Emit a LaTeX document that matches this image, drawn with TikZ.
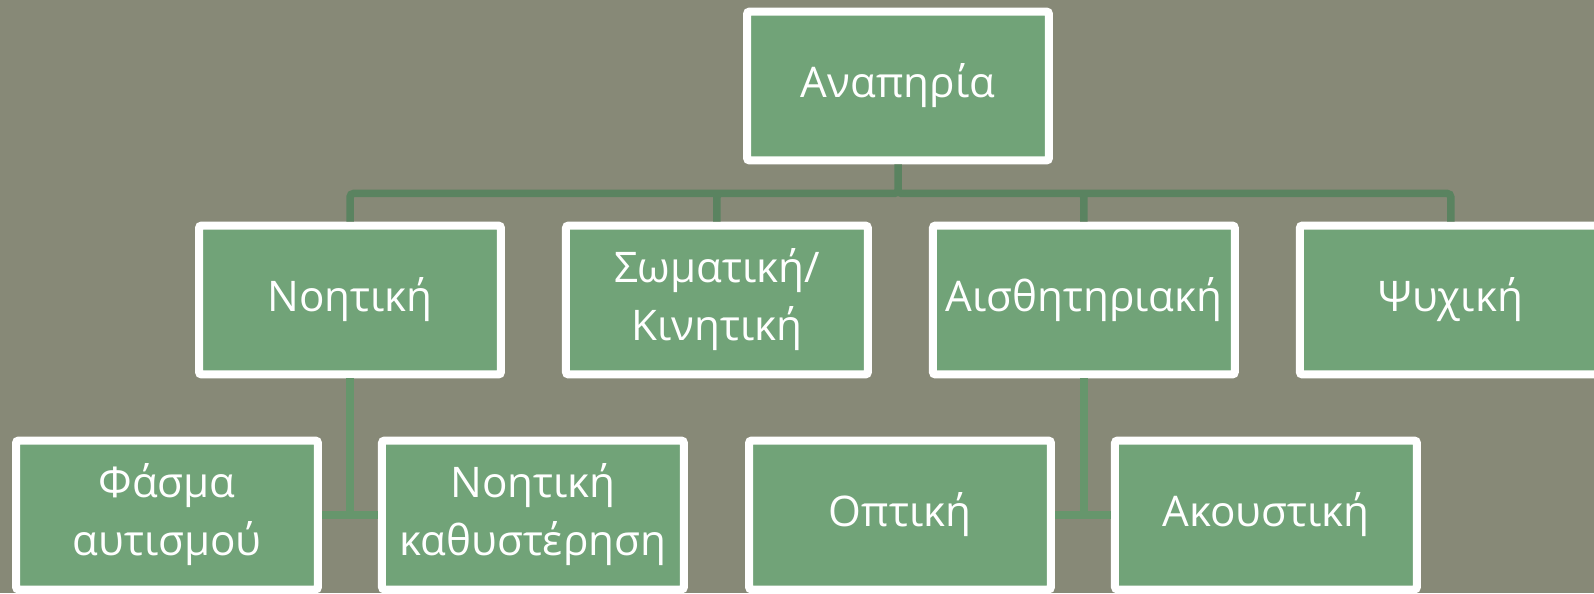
\documentclass[tikz,border=0pt]{standalone}
\usepackage{fontspec}
\setmainfont{Open Sans}
\usepackage{tikz}
\usetikzlibrary{positioning}
\definecolor{slatebg}{HTML}{878977}
\definecolor{boxgreen}{HTML}{71A378}
\definecolor{linkdark}{HTML}{5A8360}
\definecolor{linklight}{HTML}{66966C}
\tikzset{green box/.style={draw=white,fill=boxgreen,line width=0.16cm,rounded corners=1.5pt,
    minimum width=6.04cm,minimum height=2.98cm,inner sep=2pt,text=white,align=center,
    font=\fontsize{24}{33}\selectfont}}
\tikzset{tree link/.style={draw=linkdark,line width=0.15cm,rounded corners=2pt}}
\tikzset{leaf link/.style={draw=linklight,line width=0.15cm}}

\begin{document}
\begin{tikzpicture}[x=0.02cm,y=-0.02cm]
            \fill[slatebg] (0,0) rectangle (1594,593);
            \useasboundingbox (0,0) rectangle (1594,593);
            \node[green box] (root) at (898,86) {Αναπηρία};
            \node[green box] (noet) at (350,300) {Νοητική};
            \node[green box] (somat) [right=1.14cm of noet] {Σωματική/\\Κινητική};
            \node[green box] (aisth) [right=1.14cm of somat] {Αισθητηριακή};
            \node[green box] (psych) [right=1.14cm of aisth] {Ψυχική};
            \node[green box] (fasma) at (167,515) {Φάσμα\\αυτισμού};
            \node[green box] (kathy) [right=1.12cm of fasma] {Νοητική\\καθυστέρηση};
            \node[green box] (optik) at (900,515) {Οπτική};
            \node[green box] (akoust) [right=1.12cm of optik] {Ακουστική};
            \path[tree link]
                (root.south) -- ++(0,29) -| (noet.north)
                (root.south) -- ++(0,29) -| (somat.north)
                (root.south) -- ++(0,29) -| (aisth.north)
                (root.south) -- ++(0,29) -| (psych.north)
            ;
            \path[leaf link]
                (noet.south) |- (fasma.east)
                (noet.south) |- (kathy.west)
                (aisth.south) |- (optik.east)
                (aisth.south) |- (akoust.west)
            ;
\end{tikzpicture}
\end{document}
